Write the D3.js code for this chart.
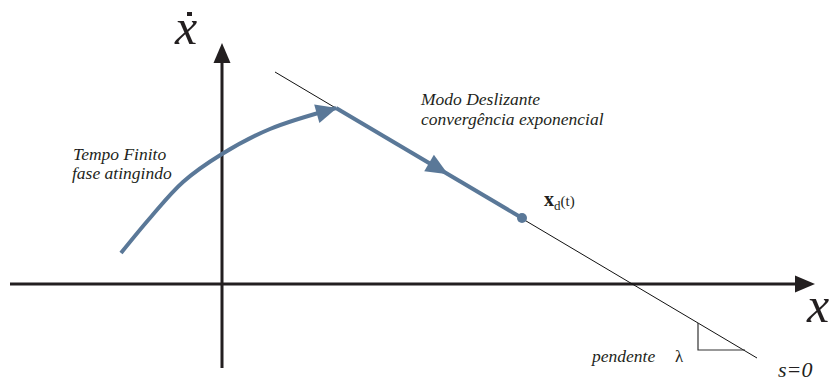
<!DOCTYPE html>
<html><head><meta charset="utf-8">
<script src="https://cdn.jsdelivr.net/npm/d3@7"></script>
<style>body{margin:0;background:#fff}svg{display:block}</style>
</head><body>
<svg id="c" width="830" height="381"></svg>
<script>
// Data (units: state-plane coordinates)
const reachingCurve = [[-10.1,3.1],[-7.2,6.6],[-3.9,10.2],[0,13.0],[4.8,15.5],[11.4,17.6]];
const slidingSegment = [[11.4,17.6],[30.0,6.6]];
const surfaceLine = [[5.3,21.2],[53.5,-7.4]];
const slopeTriangle = [[47.6,-3.9],[47.6,-6.6],[52.3,-6.6]];
const xAxisExtent = [-21.2, 59.3];
const yAxisExtent = [-8.4, 24.1];
const midArrowAt = 22.6;
const labels = {
  reach: ["Tempo Finito","fase atingindo"],
  slide: ["Modo Deslizante","convergência exponencial"],
  slope: ["pendente","λ"],
  surf: "s=0"
};

const svg = d3.select("#c");
const x = d3.scaleLinear().domain([-21.2,60.8]).range([10,830]);
const y = d3.scaleLinear().domain([-9.7,28.4]).range([381,0]);
const blue = "#5a7898", dark = "#231f20";
const SERIF = '"Liberation Serif"';

function arrowHead(tx,ty,angle,len,half,fill){
  const bx = tx - len*Math.cos(angle), by = ty - len*Math.sin(angle);
  const px = -Math.sin(angle)*half, py = Math.cos(angle)*half;
  svg.append("path").attr("d",`M${tx},${ty}L${bx+px},${by+py}L${bx-px},${by-py}Z`).attr("fill",fill);
}

// axes
svg.append("line").attr("x1",x(xAxisExtent[0])).attr("x2",x(xAxisExtent[1])-12)
  .attr("y1",y(0)).attr("y2",y(0)).attr("stroke",dark).attr("stroke-width",3);
arrowHead(x(xAxisExtent[1]),y(0),0,20,8.5,dark);
svg.append("line").attr("x1",x(0)).attr("x2",x(0))
  .attr("y1",y(yAxisExtent[0])).attr("y2",y(yAxisExtent[1])+12).attr("stroke",dark).attr("stroke-width",3);
arrowHead(x(0),y(yAxisExtent[1]),-Math.PI/2,20,8.5,dark);

// surface s=0
svg.append("line").attr("x1",x(surfaceLine[0][0])).attr("y1",y(surfaceLine[0][1]))
  .attr("x2",x(surfaceLine[1][0])).attr("y2",y(surfaceLine[1][1])).attr("stroke","#111").attr("stroke-width",1);
// slope triangle
svg.append("path").attr("d",d3.line().x(d=>x(d[0])).y(d=>y(d[1]))(slopeTriangle))
  .attr("fill","none").attr("stroke","#333").attr("stroke-width",1.2);

// reaching curve
const curveLine = d3.line().x(d=>x(d[0])).y(d=>y(d[1])).curve(d3.curveCatmullRom.alpha(0.5));
const curvePath = svg.append("path").attr("d",curveLine(reachingCurve))
  .attr("fill","none").attr("stroke",blue).attr("stroke-width",4);
{
  const node = curvePath.node(), L = node.getTotalLength();
  const end = node.getPointAtLength(L), prev = node.getPointAtLength(L-15);
  const ang = Math.atan2(end.y-prev.y, end.x-prev.x);
  arrowHead(end.x+1,end.y,ang,21,9.5,blue);
}
// sliding segment
const s0 = slidingSegment[0], s1 = slidingSegment[1];
svg.append("line").attr("x1",x(s0[0])).attr("y1",y(s0[1])).attr("x2",x(s1[0])).attr("y2",y(s1[1]))
  .attr("stroke",blue).attr("stroke-width",4);
{
  const ang = Math.atan2(y(s1[1])-y(s0[1]), x(s1[0])-x(s0[0]));
  const t = (midArrowAt - s0[0])/(s1[0]-s0[0]);
  const my = s0[1] + t*(s1[1]-s0[1]);
  arrowHead(x(midArrowAt),y(my),ang,22,9.5,blue);
}
svg.append("circle").attr("cx",x(s1[0])).attr("cy",y(s1[1])).attr("r",5).attr("fill",blue);

// texts
function txt(t,px,py,size,italic=true){
  return svg.append("text").attr("x",px).attr("y",py)
    .style("font-family",SERIF).style("font-size",size+"px").style("font-style",italic?"italic":"normal")
    .attr("fill","#231f20").text(t);
}
txt(labels.slide[0],421,105,17.5);
txt(labels.slide[1],421,125,17.5);
txt(labels.reach[0],73,160,17.5);
txt(labels.reach[1],72,179,17.5);
txt(labels.slope[0],592,362,17.5);
txt(labels.slope[1],675,362,17,false);
txt(labels.surf,778,377,22);
// x-dot label
txt("x",175,44,50);
svg.append("rect").attr("x",187).attr("y",12).attr("width",5).attr("height",4).attr("fill","#231f20");
// x label on horizontal axis
txt("x",807,322,50);
// x_d(t)
const xd = svg.append("text").attr("x",544).attr("y",206).style("font-family",SERIF).style("font-size","20px").attr("fill","#231f20");
xd.append("tspan").style("font-weight","bold").text("x");
xd.append("tspan").style("font-size","13px").attr("dy",4).text("d");
xd.append("tspan").attr("dy",-4).style("font-size","15px").text("(t)");
</script>
</body></html>
